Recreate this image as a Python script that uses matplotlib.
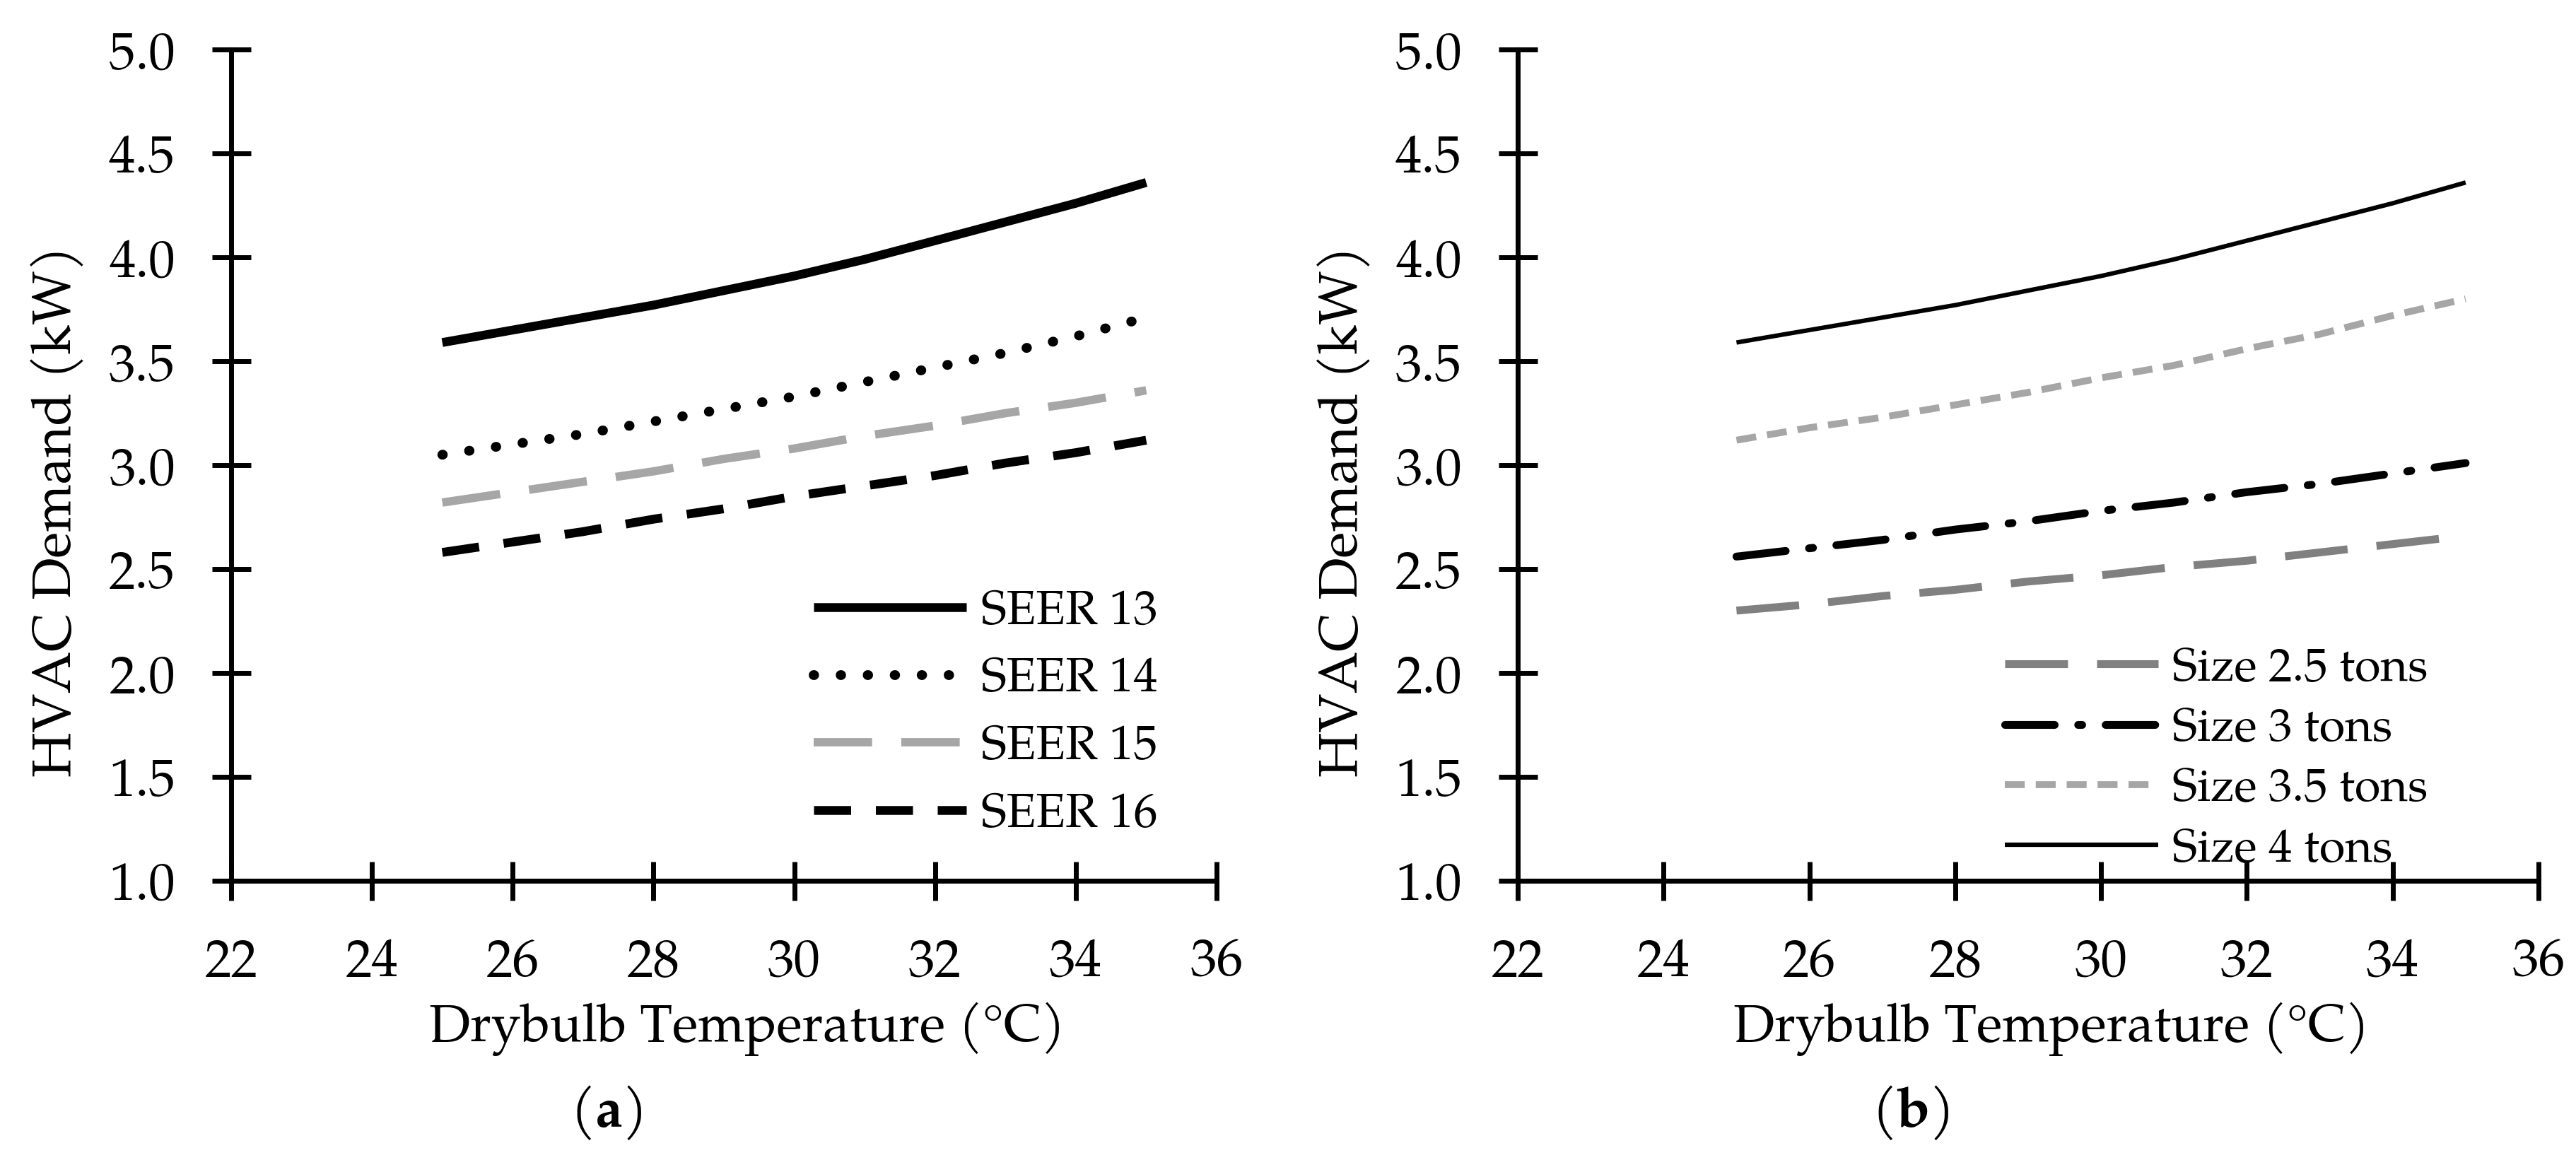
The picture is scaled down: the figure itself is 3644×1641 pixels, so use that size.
import matplotlib
matplotlib.use("Agg")
import matplotlib.pyplot as plt
from matplotlib import font_manager as fm

# ---------------- data ----------------
temps = [25, 26, 27, 28, 29, 30, 31, 32, 33, 34, 35]

seer_labels = ["SEER 13", "SEER 14", "SEER 15", "SEER 16"]
seer13 = [3.59, 3.65, 3.71, 3.77, 3.84, 3.91, 3.99, 4.08, 4.17, 4.26, 4.36]
seer14 = [3.05, 3.10, 3.15, 3.21, 3.27, 3.33, 3.40, 3.47, 3.54, 3.62, 3.71]
seer15 = [2.82, 2.87, 2.92, 2.97, 3.03, 3.08, 3.14, 3.19, 3.25, 3.30, 3.36]
seer16 = [2.58, 2.63, 2.68, 2.74, 2.79, 2.85, 2.90, 2.95, 3.01, 3.06, 3.12]

size_labels = ["Size 2.5 tons", "Size 3 tons", "Size 3.5 tons", "Size 4 tons"]
size25 = [2.30, 2.33, 2.37, 2.40, 2.44, 2.47, 2.51, 2.54, 2.58, 2.62, 2.66]
size30 = [2.56, 2.60, 2.64, 2.69, 2.73, 2.78, 2.82, 2.87, 2.91, 2.96, 3.01]
size35 = [3.12, 3.18, 3.23, 3.29, 3.35, 3.42, 3.48, 3.56, 3.63, 3.72, 3.80]
size40 = [3.59, 3.65, 3.71, 3.77, 3.84, 3.91, 3.99, 4.08, 4.17, 4.26, 4.36]

x_ticks = [22, 24, 26, 28, 30, 32, 34, 36]
y_ticks = [1.0, 1.5, 2.0, 2.5, 3.0, 3.5, 4.0, 4.5, 5.0]
x_title = "Drybulb Temperature (°C)"
y_title = "HVAC Demand (kW)"

# ---------------- fonts ----------------
available = {f.name for f in fm.fontManager.ttflist}
serif = "Liberation Serif"
for cand in ["P052", "TeX Gyre Pagella", "URW Palladio L", "Palatino Linotype",
             "Book Antiqua", "Liberation Serif", "DejaVu Serif"]:
    if cand in available:
        serif = cand
        break
plt.rcParams["font.family"] = [serif, "DejaVu Serif"]
plt.rcParams["mathtext.fontset"] = "custom"
plt.rcParams["mathtext.rm"] = serif
plt.rcParams["mathtext.bf"] = serif + ":bold"

W, H = 3644, 1641
fig = plt.figure(figsize=(W / 100, H / 100), dpi=100)

def fx(px):
    return px / W

def fy(py):
    return 1 - py / H

ax_top, ax_bot = 70, 1246
axL = fig.add_axes([fx(327), fy(ax_bot), fx(1721) - fx(327), fy(ax_top) - fy(ax_bot)])
axR = fig.add_axes([fx(2147), fy(ax_bot), fx(3591) - fx(2147), fy(ax_top) - fy(ax_bot)])

LIGHT = "#a6a6a6"
MID = "#808080"

# left panel
axL.plot(temps, seer13, color="black", lw=9.0, solid_capstyle="butt", label=seer_labels[0])
axL.plot(temps, seer14, color="black", lw=10.0, ls=(0, (0.05, 2.7)),
         dash_capstyle="round", label=seer_labels[1])
axL.plot(temps, seer15, color=LIGHT, lw=8.5, ls=(0, (7, 3.5)), label=seer_labels[2])
axL.plot(temps, seer16, color="black", lw=9.0, ls=(0, (4.2, 2.8)), label=seer_labels[3])

# right panel
axR.plot(temps, size25, color=MID, lw=8.0, ls=(0, (8, 3.7)), label=size_labels[0])
axR.plot(temps, size30, color="black", lw=8.0, ls=(0, (6.3, 3, 0.5, 3)),
         dash_capstyle="round", label=size_labels[1])
axR.plot(temps, size35, color=LIGHT, lw=7.0, ls=(0, (2.9, 1.6)), label=size_labels[2])
axR.plot(temps, size40, color="black", lw=4.5, solid_capstyle="butt", label=size_labels[3])

for ax in (axL, axR):
    ax.set_xlim(22, 36)
    ax.set_ylim(1.0, 5.0)
    ax.set_xticks(x_ticks)
    ax.set_yticks(y_ticks)
    ax.set_xticklabels([str(t) for t in x_ticks])
    ax.set_yticklabels([f"{t:.1f}" for t in y_ticks])
    for s in ("top", "right"):
        ax.spines[s].set_visible(False)
    for s in ("left", "bottom"):
        ax.spines[s].set_linewidth(5.0)
        ax.spines[s].set_color("black")
    ax.tick_params(axis="both", direction="inout", length=39.6, width=5.0,
                   labelsize=54, colors="black")
    ax.tick_params(axis="x", pad=38)
    ax.tick_params(axis="y", pad=37)
    ax.set_facecolor("white")

legL = axL.legend(loc="center left", bbox_to_anchor=(fx(1151), fy(1011)),
                  bbox_transform=fig.transFigure, frameon=False, fontsize=49,
                  handlelength=3.18, handletextpad=0.3, labelspacing=0.4,
                  borderpad=0, borderaxespad=0)
legR = axR.legend(loc="center left", bbox_to_anchor=(fx(2836), fy(1076)),
                  bbox_transform=fig.transFigure, frameon=False, fontsize=48,
                  handlelength=3.25, handletextpad=0.3, labelspacing=0.27,
                  borderpad=0, borderaxespad=0)

# axis titles
fig.text(fx(1057), fy(1473), x_title, ha="center", va="baseline", fontsize=54)
fig.text(fx(2902), fy(1473), x_title, ha="center", va="baseline", fontsize=54)
fig.text(fx(82), fy(723), y_title, ha="center", va="center", rotation=90, fontsize=55)
fig.text(fx(1902), fy(723), y_title, ha="center", va="center", rotation=90, fontsize=55)

# panel labels
fig.text(fx(857), fy(1575), r"($\mathbf{a}$)", ha="center", va="center", fontsize=56)
fig.text(fx(2702), fy(1575), r"($\mathbf{b}$)", ha="center", va="center", fontsize=56)

fig.savefig("out.png", dpi=100, facecolor="white")
